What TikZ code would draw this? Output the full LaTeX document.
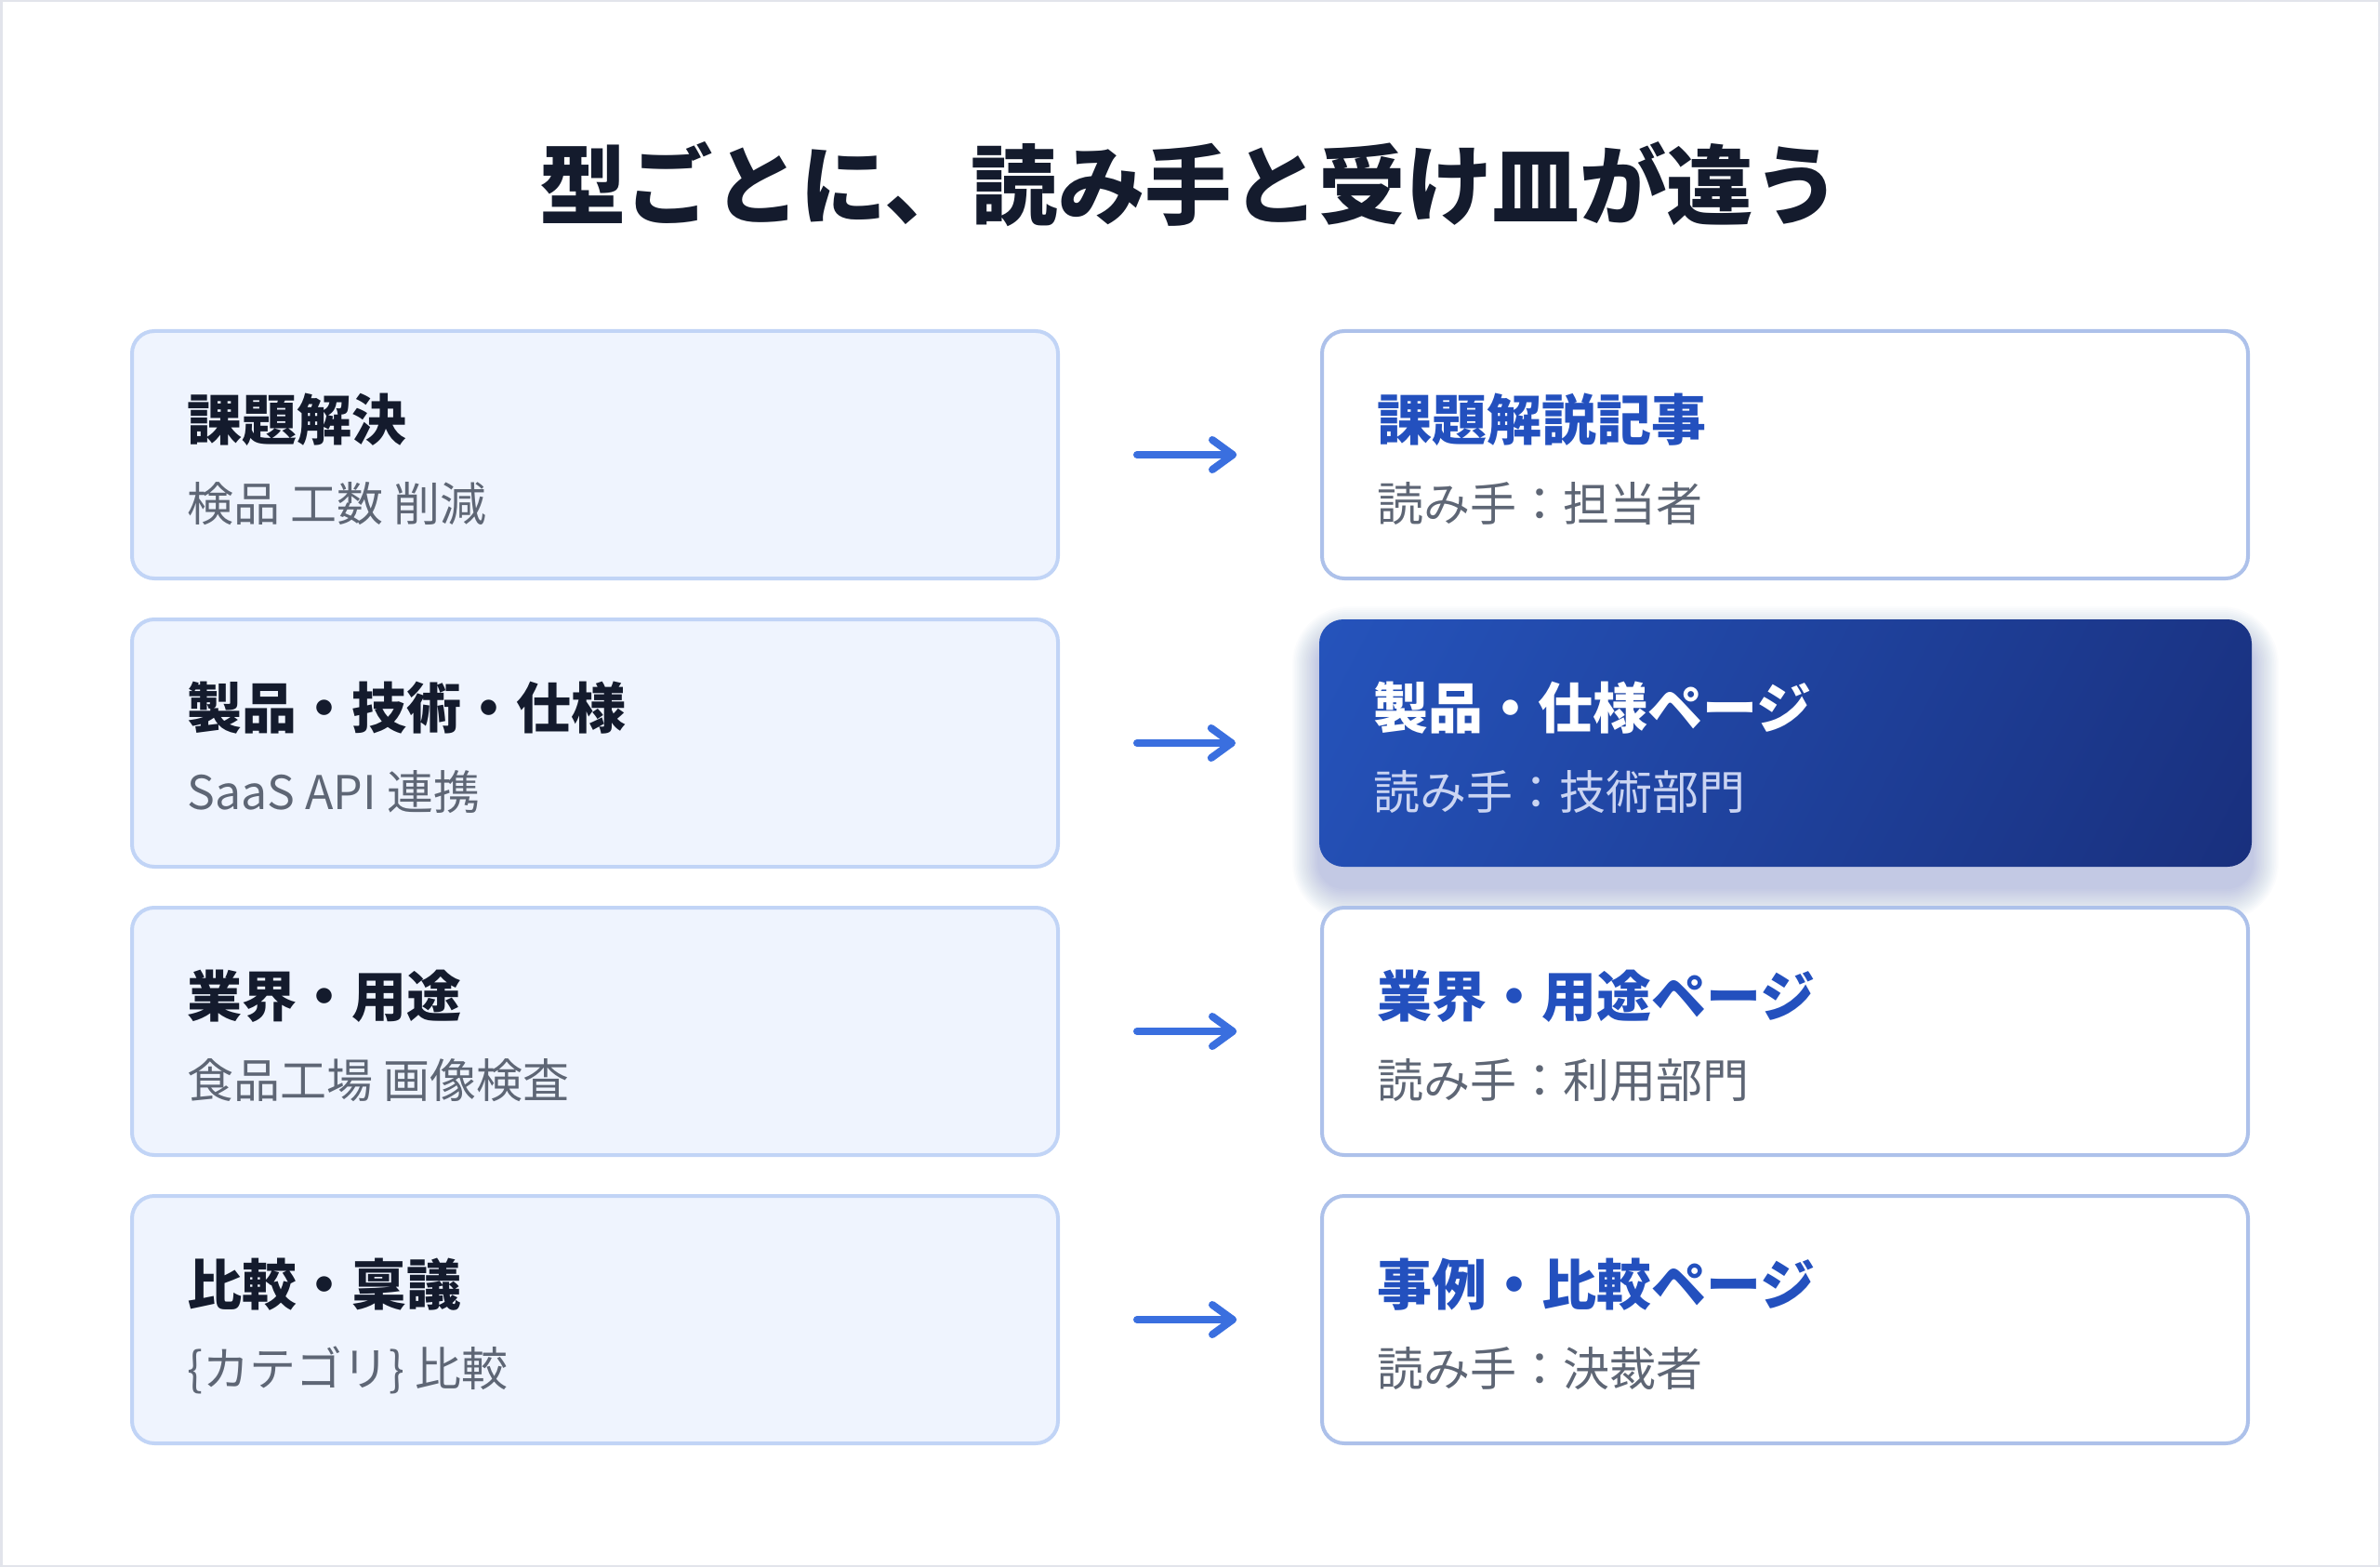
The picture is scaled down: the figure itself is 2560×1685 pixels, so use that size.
\documentclass[tikz,border=0pt]{standalone}
\usepackage{fontspec}
\setmainfont{Noto Sans CJK JP}
\usetikzlibrary{calc}
\definecolor{titlec}{HTML}{141B2D}
\definecolor{subc}{HTML}{5E6675}
\definecolor{lfill}{HTML}{EFF4FE}
\definecolor{lborder}{HTML}{C1D4F6}
\definecolor{rborder}{HTML}{ADC1EA}
\definecolor{bluet}{HTML}{2350BE}
\definecolor{arrc}{HTML}{3A6FDF}
\definecolor{hgA}{HTML}{2553BB}
\definecolor{hgB}{HTML}{19307E}
\definecolor{hsub}{HTML}{CAD4F2}
\definecolor{shadc}{HTML}{2B4BAE}
\definecolor{framec}{HTML}{E2E4EB}
\pgfdeclarehorizontalshading{hgrad}{100bp}{color(0bp)=(hgA); color(16.8bp)=(hgA); color(83.2bp)=(hgB); color(100bp)=(hgB)}
\tikzset{
  lbox/.style={draw=lborder, line width=4pt, fill=lfill, rounded corners=24pt,
    minimum width=996pt, minimum height=266pt, inner sep=0pt},
  rbox/.style={draw=rborder, line width=4pt, fill=white, rounded corners=24pt,
    minimum width=996pt, minimum height=266pt, inner sep=0pt},
  hbox/.style={rounded corners=26pt, minimum width=1003pt, minimum height=266pt,
    inner sep=0pt, shading=hgrad, shading angle=-28},
  btitle/.style={anchor=base west, inner sep=0pt, font=\fontsize{59}{70}\selectfont\bfseries, text=titlec},
  rtitle/.style={btitle, text=bluet},
  htitle/.style={btitle, text=white},
  bsub/.style={anchor=base west, inner sep=0pt, font=\fontsize{50}{60}\selectfont, text=subc},
  hsubt/.style={bsub, text=hsub},
  arrline/.style={draw=arrc, line width=8pt, line cap=round, line join=round},
}
\begin{document}
\begin{tikzpicture}[x=1pt,y=-1pt]
\useasboundingbox (0,0) rectangle (2560,1685);
\fill[white] (0,0) rectangle (2560,1685);
\draw[framec, line width=2.5pt] (1.25,1.25) rectangle (2558.75,1683.75);

\node[anchor=base, inner sep=0pt, font=\fontsize{93.5}{112}\selectfont\bfseries, text=titlec]
  (title) at (1280,235) {型ごとに、読み手と受け皿が違う};

% shadow of the highlighted box
\foreach \i in {1,...,18} {
  \pgfmathsetmacro{\ex}{1.6*\i}
  \pgfmathsetmacro{\ey}{2*\i}
  \pgfmathsetmacro{\rr}{26+2*\i}
  \fill[shadc, fill opacity=0.015, rounded corners=\rr pt]
    (1419-\ex, 666+22-\ey) rectangle (2422+\ex, 932+22+\ey);
}

% left boxes
\node[lbox] (L1) at (640,489) {};
\node[lbox] (L2) at (640,799) {};
\node[lbox] (L3) at (640,1109) {};
\node[lbox] (L4) at (640,1419) {};

% right boxes
\node[rbox] (R1) at (1920,489) {};
\node[hbox] (R2) at (1920.5,799) {};
\node[rbox] (R3) at (1920,1109) {};
\node[rbox] (R4) at (1920,1419) {};

% left texts
\node[btitle] (L1t) at (201,473) {課題解決};
\node[bsub]   (L1s) at (201,560) {検品 工数 削減};
\node[btitle] (L2t) at (201,783) {製品・技術・仕様};
\node[bsub]   (L2s) at (201,870) {SaaS API 連携};
\node[btitle] (L3t) at (201,1093) {業界・用途};
\node[bsub]   (L3s) at (201,1180) {食品工場 画像検査};
\node[btitle] (L4t) at (201,1403) {比較・稟議};
\node[bsub]   (L4s) at (201,1490) {\{カテゴリ\} 比較};

% right texts
\node[rtitle] (R1t) at (1481,473) {課題解説記事};
\node[bsub]   (R1s) at (1481,560) {読み手：担当者};
\node[htitle] (R2t) at (1477,783) {製品・仕様ページ};
\node[hsubt]  (R2s) at (1477,870) {読み手：技術部門};
\node[rtitle] (R3t) at (1481,1093) {業界・用途ページ};
\node[bsub]   (R3s) at (1481,1180) {読み手：利用部門};
\node[rtitle] (R4t) at (1481,1403) {事例・比較ページ};
\node[bsub]   (R4s) at (1481,1490) {読み手：決裁者};

% arrows
\foreach \r in {1,2,3,4} {
  \coordinate (A\r s) at ([xshift=83pt]L\r.east);
  \coordinate (A\r e) at ([xshift=-94pt]R\r.west);
  \draw[arrline] (A\r s) -- (A\r e);
  \draw[arrline] ($(A\r e)+(-22,-16)$) -- (A\r e) -- ($(A\r e)+(-22,16)$);
}
\end{tikzpicture}
\end{document}
